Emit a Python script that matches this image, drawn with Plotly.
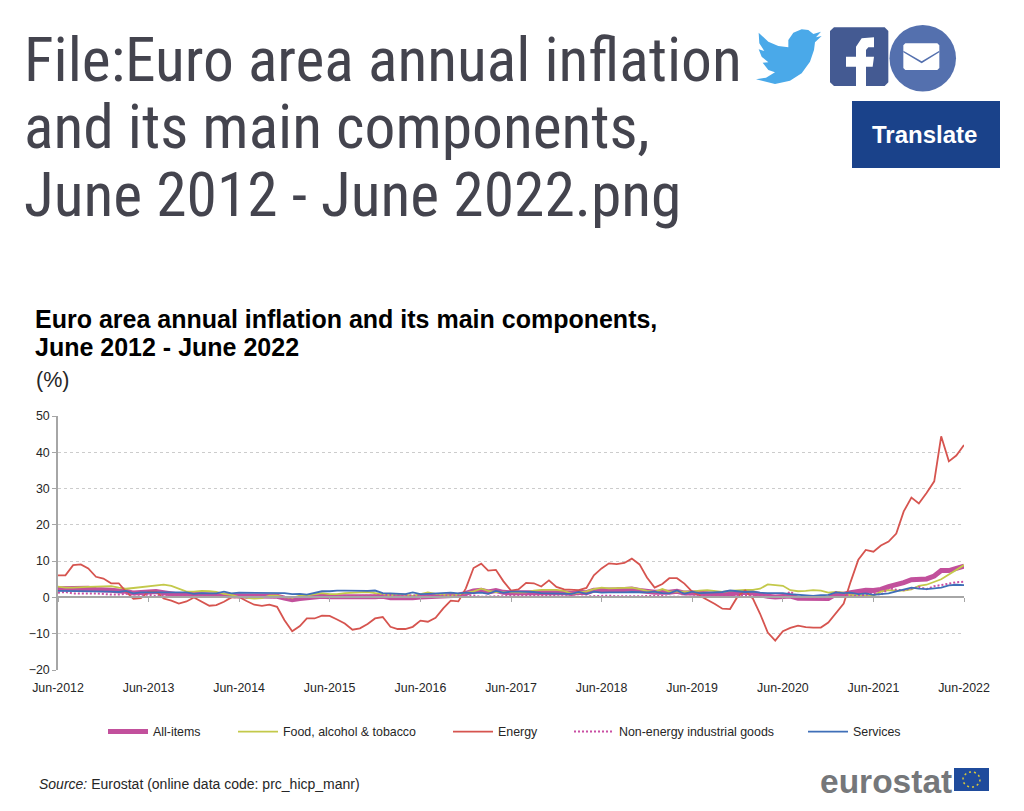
"""Euro area annual inflation and its main components, June 2012 - June 2022."""
import plotly.graph_objects as go

# one value per month, one row per calendar year
ALL_ITEMS = [
    2.4, 2.4, 2.6, 2.6, 2.5, 2.2, 2.2,
    2.0, 1.8, 1.7, 1.2, 1.4, 1.6, 1.6, 1.3, 1.1, 0.7, 0.9, 0.8,
    0.8, 0.7, 0.5, 0.7, 0.5, 0.5, 0.4, 0.4, 0.3, 0.4, 0.3, -0.2,
    -0.6, -0.3, -0.1, 0.0, 0.3, 0.2, 0.2, 0.1, -0.1, 0.1, 0.1, 0.2,
    0.3, -0.1, 0.0, -0.2, -0.1, 0.1, 0.2, 0.2, 0.4, 0.5, 0.6, 1.1,
    1.8, 2.0, 1.5, 1.9, 1.4, 1.3, 1.3, 1.5, 1.5, 1.4, 1.5, 1.4,
    1.3, 1.1, 1.4, 1.3, 2.0, 2.0, 2.2, 2.1, 2.2, 2.3, 1.9, 1.5,
    1.4, 1.5, 1.4, 1.7, 1.2, 1.3, 1.0, 1.0, 0.8, 0.7, 1.0, 1.3,
    1.4, 1.2, 0.7, 0.3, 0.1, 0.3, 0.4, -0.2, -0.3, -0.3, -0.3, -0.3,
    0.9, 0.9, 1.3, 1.6, 2.0, 1.9, 2.2, 3.0, 3.4, 4.1, 4.9, 5.0,
    5.1, 5.9, 7.4, 7.4, 8.1, 8.6,
]
FOOD = [
    3.0, 2.7, 2.7, 2.7, 2.9, 3.0, 3.0,
    3.1, 2.7, 2.4, 2.6, 2.8, 3.2, 3.3, 3.5, 3.2, 2.5, 1.6, 1.6,
    1.8, 1.7, 1.5, 1.0, 0.7, 0.1, -0.2, -0.3, -0.2, 0.5, 0.5, 0.0,
    -0.1, 0.5, 0.6, 1.0, 1.2, 0.9, 0.9, 1.2, 1.3, 1.6, 1.5, 1.2,
    1.0, 0.6, 0.9, 0.8, 0.4, 0.9, 1.4, 1.0, 0.7, 0.5, 0.8, 1.2,
    1.7, 2.4, 1.8, 1.5, 1.4, 1.3, 1.4, 1.4, 1.9, 2.1, 2.2, 2.1,
    1.8, 1.0, 1.3, 1.7, 2.3, 2.7, 2.5, 2.5, 2.5, 2.7, 2.3, 1.8,
    1.5, 2.3, 1.6, 1.5, 1.6, 1.6, 1.9, 2.0, 1.7, 1.5, 1.8, 2.0,
    2.1, 2.1, 2.4, 3.6, 3.3, 3.2, 2.0, 1.7, 1.8, 2.0, 1.9, 1.3,
    1.5, 1.3, 0.6, 0.6, 0.6, 0.5, 1.6, 2.0, 1.9, 1.9, 2.2, 3.2,
    3.5, 4.2, 5.0, 6.3, 7.5, 8.9,
]
ENERGY = [
    6.1, 6.1, 8.9, 9.1, 8.0, 5.7, 5.2,
    3.9, 3.9, 1.7, -0.4, -0.2, 1.6, 1.6, -0.3, -0.9, -1.7, -1.1, 0.0,
    -1.2, -2.3, -2.1, -1.2, 0.0, 0.1, -1.0, -2.0, -2.3, -2.0, -2.6, -6.3,
    -9.3, -7.9, -5.8, -5.8, -5.0, -5.1, -6.1, -7.2, -8.9, -8.5, -7.3, -5.8,
    -5.4, -8.1, -8.7, -8.7, -8.1, -6.4, -6.7, -5.6, -3.0, -0.9, -1.1, 2.5,
    8.1, 9.3, 7.4, 7.6, 4.5, 1.9, 2.2, 4.0, 3.9, 3.0, 4.7, 2.9,
    2.2, 2.1, 2.0, 2.6, 6.1, 8.0, 9.4, 9.2, 9.5, 10.7, 9.1, 5.5,
    2.7, 3.7, 5.3, 5.3, 3.8, 1.6, 0.5, -0.6, -1.8, -3.1, -3.2, 0.2,
    1.9, -0.3, -4.5, -9.7, -11.9, -9.3, -8.4, -7.8, -8.2, -8.3, -8.3, -6.9,
    -4.2, -1.7, 4.3, 10.4, 13.1, 12.6, 14.3, 15.4, 17.6, 23.7, 27.5, 25.9,
    28.8, 32.0, 44.4, 37.5, 39.1, 42.0,
]
NEIG = [
    1.3, 1.5, 1.1, 1.2, 1.1, 1.1, 0.9,
    0.8, 0.8, 1.0, 0.8, 0.8, 0.7, 0.4, 0.4, 0.4, 0.3, 0.2, 0.3,
    0.2, 0.4, 0.2, 0.1, 0.0, 0.0, 0.0, 0.3, 0.2, -0.1, -0.1, -0.1,
    -0.1, -0.1, 0.1, 0.1, 0.3, 0.2, 0.4, 0.3, 0.3, 0.4, 0.5, 0.5,
    0.7, 0.7, 0.5, 0.5, 0.5, 0.4, 0.4, 0.3, 0.3, 0.3, 0.3, 0.3,
    0.5, 0.2, 0.2, 0.3, 0.3, 0.4, 0.5, 0.5, 0.5, 0.4, 0.4, 0.5,
    0.5, 0.3, 0.2, 0.3, 0.3, 0.4, 0.5, 0.3, 0.3, 0.4, 0.4, 0.5,
    0.3, 0.4, 0.2, 0.2, 0.3, 0.2, 0.5, 0.3, 0.3, 0.3, 0.4, 0.5,
    0.5, 0.5, 0.5, 0.3, 0.2, 0.2, 1.6, 0.1, -0.1, -0.1, -0.3, -0.5,
    1.5, 1.0, 0.3, 0.4, 0.7, 1.2, 0.7, 2.6, 2.1, 2.0, 2.4, 2.9,
    2.3, 3.1, 3.4, 3.8, 4.2, 4.3,
]
SERVICES = [
    1.8, 1.8, 1.8, 1.7, 1.7, 1.6, 1.8,
    1.6, 1.5, 1.8, 1.1, 1.4, 1.4, 1.4, 1.4, 1.4, 1.2, 1.4, 1.0,
    1.2, 1.1, 1.1, 1.6, 1.1, 1.3, 1.3, 1.3, 1.1, 1.2, 1.1, 1.2,
    0.9, 1.0, 0.8, 1.3, 1.7, 1.7, 1.9, 1.9, 1.8, 1.8, 1.8, 1.9,
    1.2, 1.1, 1.1, 0.9, 1.4, 0.9, 1.0, 1.1, 1.1, 1.3, 1.1, 1.3,
    1.2, 1.3, 1.0, 1.8, 1.3, 1.6, 1.6, 1.6, 1.5, 1.2, 1.2, 1.2,
    1.2, 1.0, 1.5, 1.0, 1.6, 1.3, 1.4, 1.3, 1.4, 1.5, 1.4, 1.4,
    1.6, 1.2, 1.1, 1.9, 1.0, 1.6, 1.2, 1.3, 1.5, 1.5, 1.9, 1.8,
    1.5, 1.6, 1.3, 1.2, 1.3, 1.2, 0.9, 0.7, 0.5, 0.4, 0.6, 0.7,
    1.4, 1.2, 1.3, 0.9, 1.1, 0.7, 0.9, 1.1, 1.7, 2.1, 2.7, 2.4,
    2.3, 2.5, 2.7, 3.3, 3.5, 3.4,
]
MONTHS = [
    f"{2012 + (5 + i) // 12}-{(5 + i) % 12 + 1:02d}-01" for i in range(len(ALL_ITEMS))
]
TICK_YEARS = list(range(2012, 2023))
TICK_DATES = [f"{y}-06-01" for y in TICK_YEARS]
TICK_LABELS = [f"Jun-{y}" for y in TICK_YEARS]
Y_TICKS = [-20, -10, 0, 10, 20, 30, 40, 50]
HEADER_LINES = ["File:Euro area annual inflation", "and its main components,", "June 2012 - June 2022.png"]

# the page body has an 8 px margin, so the figure is smaller than the window
W, H = 1008, 795
PLOT_L, PLOT_R, PLOT_T, PLOT_B = 58, 964, 416, 670
SANS = "Liberation Sans"


# paper coordinates count from the plot area, not from the whole figure
def px(x):
    return (x - PLOT_L) / (PLOT_R - PLOT_L)


def py(y):
    return (PLOT_B - y) / (PLOT_B - PLOT_T)


def note(x, y, text, size, color="#000000", family=SANS, xanchor="left"):
    return dict(text=text, x=px(x), y=py(y), xref="paper", yref="paper", showarrow=False,
                xanchor=xanchor, yanchor="middle", align="left", xshift=-1,
                font=dict(size=size, color=color, family=family))


def poly(points, color):
    path = "M " + " L ".join(f"{px(x):.5f},{py(y):.5f}" for x, y in points) + " Z"
    return dict(type="path", xref="paper", yref="paper", path=path, fillcolor=color, line_width=0)


def zoomed(points):
    # icon outlines were traced on a 3x crop with its corner at (740, 10)
    return [(740 + x / 3, 10 + y / 3) for x, y in points]


def box(x0, y0, x1, y1, color, kind="rect", line=None):
    return dict(type=kind, xref="paper", yref="paper", x0=px(x0), x1=px(x1), y0=py(y0), y1=py(y1),
                fillcolor=color, line=line or dict(width=0))


BIRD = [(185, 58), (205, 60), (220, 72), (243, 65), (228, 82), (245, 78), (225, 97), (222, 120),
        (210, 155), (185, 190), (150, 212), (105, 222), (48, 208), (78, 203), (105, 187), (85, 180),
        (68, 158), (85, 157), (65, 140), (56, 118), (73, 123), (58, 100), (56, 68), (85, 95),
        (115, 108), (145, 112), (145, 90), (160, 68)]
FB_BOX = [(282, 52), (434, 52), (445, 63), (445, 217), (434, 228), (282, 228), (270, 217), (270, 63)]
FB_F = [(348, 228), (348, 170), (318, 170), (318, 140), (348, 140), (348, 110), (365, 85), (402, 82),
        (402, 112), (385, 112), (378, 120), (378, 140), (402, 140), (398, 170), (378, 170), (378, 228)]
ENVELOPE = [(496, 100), (592, 100), (598, 106), (598, 174), (592, 180), (496, 180), (490, 174), (490, 106)]
FLAP = [(490, 122), (545, 154), (598, 122), (598, 127), (545, 160), (490, 127)]

SERIES = [
    ("All-items", ALL_ITEMS, "#C2509C", 5, "solid", 108),
    ("Food, alcohol & tobacco", FOOD, "#C3C94A", 1.8, "solid", 238),
    ("Energy", ENERGY, "#D6544F", 1.8, "solid", 453),
    ("Non-energy industrial goods", NEIG, "#C94FA3", 2, "2px,2px", 574),
    ("Services", SERVICES, "#3F6FB8", 1.8, "solid", 808),
]

fig = go.Figure()
legends = {}
for n, (name, values, color, width, dash, legend_x) in enumerate(SERIES, start=1):
    key = "legend" if n == 1 else f"legend{n}"
    fig.add_trace(go.Scatter(x=MONTHS, y=values, name=name, mode="lines", legend=key,
                             line=dict(color=color, width=width, dash=dash)))
    legends[key] = dict(x=px(legend_x - 5), y=py(732), xanchor="left", yanchor="middle", itemwidth=40,
                        bgcolor="rgba(0,0,0,0)", font=dict(size=12.4, color="#262626", family=SANS))

# invisible trace: it keeps the bottom axis, which only carries the year labels
fig.add_trace(go.Scatter(x=MONTHS[:1], y=[0], xaxis="x2", mode="none", showlegend=False, hoverinfo="skip"))

annotations = [note(23, 60 + 67.5 * i, line, 61.5, "#44444E", "Roboto Condensed, Roboto")
               for i, line in enumerate(HEADER_LINES)]
annotations += [
    note(925.5, 134, "<b>Translate</b>", 24, "#FFFFFF", xanchor="center"),
    note(33.5, 319, "<b>Euro area annual inflation and its main components,</b>", 25),
    note(33.5, 347, "<b>June 2012 - June 2022</b>", 25),
    note(34.5, 380, "(%)", 21.5, "#262626"),
    note(38, 784, "<i>Source:</i> Eurostat (online data code: prc_hicp_manr)", 14, "#262626"),
    note(819, 781, "<b>eurostat</b>", 33.5, "#75777A"),
]

shapes = [
    poly(zoomed(BIRD), "#4AA9E9"),
    poly(zoomed(FB_BOX), "#445A92"),
    poly(zoomed(FB_F), "#FFFFFF"),
    box(889.5, 25, 956, 91.5, "#5470AE", "circle"),
    poly(zoomed(ENVELOPE), "#FFFFFF"),
    poly(zoomed(FLAP), "#5470AE"),
    box(852, 101, 1000, 168, "#1A428A"),
    box(954, 768, 989, 791, "#1F4B9C"),
    box(963, 772, 980, 787, "rgba(0,0,0,0)", "circle", dict(color="#D9C93A", width=1.5, dash="2px,3px")),
]

fig.update_layout(
    width=W,
    height=H,
    margin=dict(l=PLOT_L - 8, r=8 + W - PLOT_R, t=PLOT_T - 8, b=8 + H - PLOT_B),
    paper_bgcolor="#FFFFFF",
    plot_bgcolor="#FFFFFF",
    font=dict(family=SANS, size=12, color="#262626"),
    xaxis=dict(
        type="date", range=[MONTHS[0], MONTHS[-1]], anchor="free", position=20 / 70,
        tickvals=TICK_DATES, showticklabels=False, ticks="outside", ticklen=4, tickcolor="#A6A6A6",
        showline=True, linecolor="#A6A6A6", linewidth=1.5, showgrid=False, zeroline=False,
    ),
    xaxis2=dict(
        type="date", range=[MONTHS[0], MONTHS[-1]], overlaying="x", anchor="y", side="bottom",
        tickvals=TICK_DATES, ticktext=TICK_LABELS, ticks="outside", ticklen=6, tickcolor="rgba(0,0,0,0)",
        showgrid=False, showline=False, zeroline=False, tickfont=dict(size=12.4, color="#262626"),
    ),
    yaxis=dict(
        range=[-20, 50], tickvals=Y_TICKS, anchor="x2", ticks="outside", ticklen=4, tickcolor="#A6A6A6",
        showline=True, linecolor="#A6A6A6", linewidth=1.5, zeroline=False,
        gridcolor="#CCCCCC", griddash="dot", gridwidth=1, tickfont=dict(size=12.4, color="#262626"),
    ),
    annotations=annotations,
    shapes=shapes,
    **legends,
)

fig.write_html("out.html")
